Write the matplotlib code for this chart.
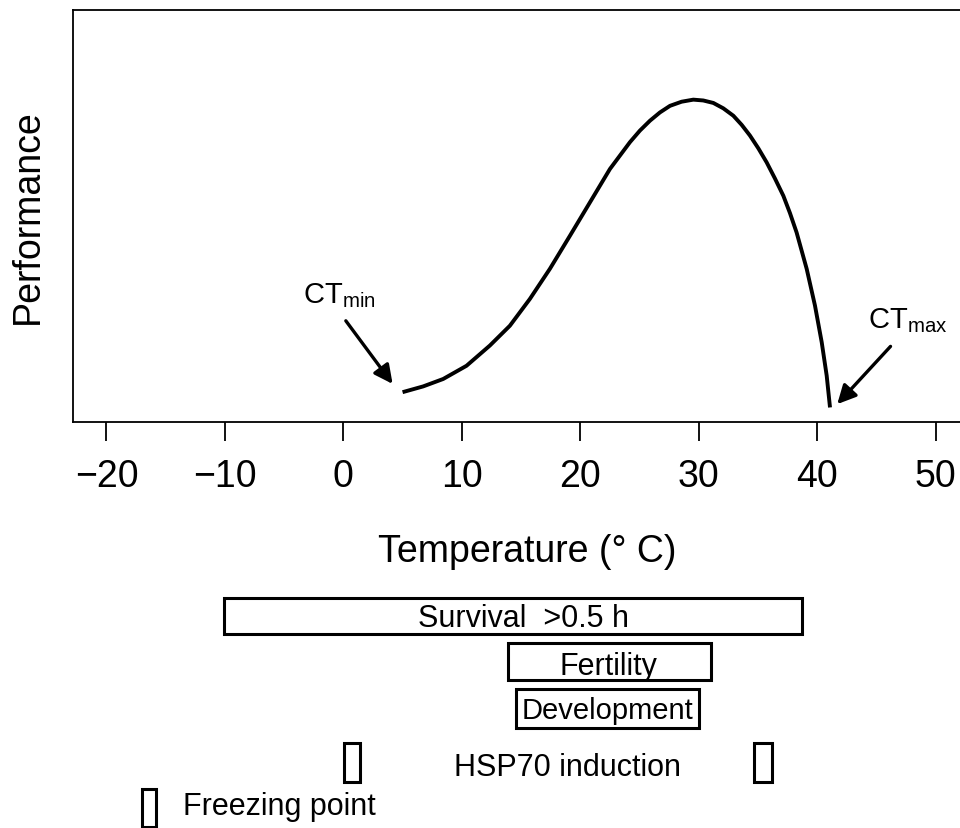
"""
Thermal performance curve with CTmin / CTmax and tolerance ranges below the axis.
"""

import matplotlib as mpl
import matplotlib.pyplot as plt
from matplotlib.patches import Rectangle

# ── data ─────────────────────────────────────────────────────────────────────
temp = [5.00, 6.74, 8.43, 10.40, 12.37, 14.06, 15.75, 17.44, 19.13, 20.82,
        22.51, 24.20, 25.04, 25.89, 26.73, 27.58, 28.56, 29.55, 30.39, 31.24,
        32.08, 32.93, 33.63, 34.33, 35.04, 35.74, 36.44, 37.15, 37.71, 38.27,
        39.12, 39.82, 40.39, 40.81, 41.09]
perf = [0.073, 0.087, 0.105, 0.137, 0.186, 0.234, 0.299, 0.372, 0.452, 0.533,
        0.614, 0.679, 0.707, 0.731, 0.751, 0.767, 0.777, 0.782, 0.780, 0.774,
        0.761, 0.743, 0.721, 0.695, 0.664, 0.630, 0.591, 0.549, 0.507, 0.460,
        0.372, 0.283, 0.194, 0.113, 0.036]

xticks = [-20, -10, 0, 10, 20, 30, 40, 50]

# ranges shown under the axis: (low, high)
survival    = (-10.1, 38.7)
fertility   = (13.9, 31.0)
development = (14.6, 30.05)
hsp70       = [(0.07, 1.39), (34.7, 36.2)]
freezing    = (-17.04, -15.78)

# ── style ────────────────────────────────────────────────────────────────────
mpl.rcParams.update({
    "font.family":      ["Liberation Sans", "DejaVu Sans"],
    "mathtext.fontset": "custom",
    "mathtext.rm":      "Liberation Sans",
    "figure.facecolor": "white",
})

W, H = 960, 829
fig = plt.figure(figsize=(W / 100, H / 100), dpi=100)

# main axes (right edge runs past the figure, like the original)
ax_l, ax_r = 73.3, 968.7
ax_t, ax_b = 10.7, 423.3
ax = fig.add_axes([ax_l / W, 1 - ax_b / H, (ax_r - ax_l) / W, (ax_b - ax_t) / H])

ax.plot(temp, perf, color="black", lw=2.8, solid_capstyle="butt",
        solid_joinstyle="round")

ax.set_xlim(-22.8, 52.8)
ax.set_ylim(0, 1)
ax.set_xticks(xticks)
ax.set_xticklabels([f"\u2212{abs(t)}" if t < 0 else str(t) for t in xticks])
ax.set_yticks([])
ax.tick_params(axis="x", length=13.8, width=1.3, pad=12, labelsize=27)
for s in ax.spines.values():
    s.set_linewidth(1.3)

ax.set_ylabel("Performance", fontsize=27, labelpad=20)
fig.text(527 / W, 1 - 562 / H, "Temperature (\u00b0 C)", fontsize=27,
         ha="center", va="baseline")

# CT labels + arrows
arrow = dict(arrowstyle="-|>", lw=2.4, color="black", mutation_scale=28,
             shrinkA=0, shrinkB=0)
ax.annotate("", xy=(4.16, 0.093), xytext=(0.21, 0.246), arrowprops=arrow)
ax.annotate("", xy=(41.7, 0.044), xytext=(46.2, 0.184), arrowprops=arrow)
ax.text(-3.42, 0.292, r"CT$_\mathregular{min}$", fontsize=21, va="baseline")
ax.text(44.3, 0.231, r"CT$_\mathregular{max}$", fontsize=21, va="baseline")

# ── ranges below the axis (y in pixels from the top) ─────────────────────────
ax2 = fig.add_axes([ax_l / W, 0, (ax_r - ax_l) / W, 1 - 590 / H])
ax2.set_xlim(ax.get_xlim())
ax2.set_ylim(H, 590)
ax2.axis("off")

def box(lo_hi, top, bot):
    lo, hi = lo_hi
    ax2.add_patch(Rectangle((lo, top), hi - lo, bot - top, fill=False,
                            edgecolor="black", lw=2.2, clip_on=False))

box(survival, 599, 635)
box(fertility, 644, 681)
box(development, 690, 729)
for r in hsp70:
    box(r, 744, 783)
box(freezing, 790, 828)

lab = dict(fontsize=22, va="baseline")
ax2.text(15.2, 627, "Survival  >0.5 h", ha="center", **lab)
ax2.text(22.4, 675, "Fertility", ha="center", **lab)
ax2.text(22.3, 719, "Development", ha="center", fontsize=21, va="baseline")
ax2.text(18.9, 776, "HSP70 induction", ha="center", **lab)
ax2.text(-13.55, 815, "Freezing point", ha="left", **lab)

fig.savefig("out.png", dpi=100, facecolor="white")
